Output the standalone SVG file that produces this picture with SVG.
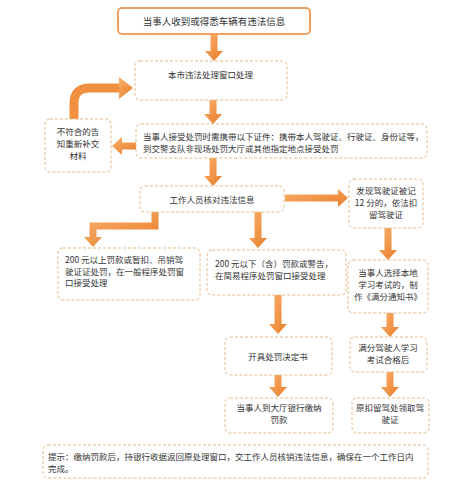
<svg xmlns="http://www.w3.org/2000/svg" width="466" height="485" viewBox="0 0 466 485">
<style>
text{font-family:"Noto Sans CJK SC","Noto Sans",sans-serif;font-size:8.5px;fill:#333}
.c{text-anchor:middle}
.b{fill:#fff;stroke:#e6b98a;stroke-width:1;stroke-dasharray:3 2}
.s{fill:#fff;stroke:#f0a060;stroke-width:2}
.a{fill:url(#g);stroke:none}
</style>
<defs>
<linearGradient id="g" x1="0" y1="0" x2="1" y2="1">
<stop offset="0" stop-color="#f7b06a"/>
<stop offset="1" stop-color="#ea7d2a"/>
</linearGradient>
</defs>
<rect width="466" height="485" fill="#fff"/>
<g id="connectors">
<path class="a" d="M210.5 34 H217.5 V51 H223 L214 61 L205 51 H210.5 Z"/>
<path class="a" d="M209.5 100 H216.5 V114 H222 L213 124 L204 114 H209.5 Z"/>
<path class="a" d="M209.5 158 H216.5 V176 H222 L213 186 L204 176 H209.5 Z"/>
<path class="a" d="M151.5 212 V222.5 H89.5 V237 H84 L93 247 L102 237 H96.5 V229.5 H158.5 V212 Z"/>
<path class="a" d="M254.5 212 H261.5 V238 H267 L258 248 L249 238 H254.5 Z"/>
<path class="a" d="M285 194.5 V201.5 H338 V207 L348 198 L338 189 V194.5 Z"/>
<path class="a" d="M384.5 228 H391.5 V250 H397 L388 260 L379 250 H384.5 Z"/>
<path class="a" d="M386.5 313 H393.5 V327 H399 L390 337 L381 327 H386.5 Z"/>
<path class="a" d="M386.5 372 H393.5 V387 H399 L390 397 L381 387 H386.5 Z"/>
<path class="a" d="M274.5 295 H281.5 V324 H287 L278 334 L269 324 H274.5 Z"/>
<path class="a" d="M274.5 375 H281.5 V387 H287 L278 397 L269 387 H274.5 Z"/>
<path class="a" d="M137 142.5 V149.5 H122 V155 L112 146 L122 137 V142.5 Z"/>
<path d="M74 119 V103 Q74 88 90 88 H120" fill="none" stroke="#f09040" stroke-width="9"/>
<path class="a" d="M119 77 L133 88 L119 99 Z"/>
</g>
<g id="n1"><rect class="s" x="118" y="8" width="192" height="26" rx="4"/><text class="c" x="214" y="25" style="font-size:9.5px">当事人收到或得悉车辆有违法信息</text></g>
<g id="n2"><rect class="b" x="135" y="61" width="152" height="39" rx="5"/><text class="c" x="210.5" y="78">本市违法处理窗口处理</text></g>
<g id="n3"><rect class="b" x="45" y="119" width="66" height="53" rx="5"/><text class="c" x="78" y="135">不符合的告</text><text class="c" x="78" y="147">知重新补交</text><text class="c" x="78" y="159">材料</text></g>
<g id="n4"><rect class="b" x="136" y="124" width="291" height="34" rx="5"/><text x="143" y="140">当事人接受处罚时需携带以下证件：携带本人驾驶证、行驶证、身份证等，</text><text x="143" y="152">到交警支队非现场处罚大厅或其他指定地点接受处罚</text></g>
<g id="n5"><rect class="b" x="140" y="186" width="144" height="26" rx="5"/><text class="c" x="212" y="203">工作人员核对违法信息</text></g>
<g id="n6"><rect class="b" x="349" y="179" width="74" height="49" rx="5"/><text class="c" x="386" y="194">发现驾驶证被记</text><text class="c" x="386" y="206">12 分的，依法扣</text><text class="c" x="386" y="218">留驾驶证</text></g>
<g id="n7"><rect class="b" x="58" y="248" width="142" height="52" rx="5"/><text x="65" y="263">200 元以上罚款或暂扣、吊销驾</text><text x="65" y="274.5">驶证证处罚，在一般程序处罚窗</text><text x="65" y="286">口接受处理</text></g>
<g id="n8"><rect class="b" x="207" y="250" width="139" height="45" rx="5"/><text x="215" y="267">200 元以下（含）罚款或警告，</text><text x="215" y="279">在简易程序处罚窗口接受处理</text></g>
<g id="n9"><rect class="b" x="348" y="260" width="80" height="53" rx="5"/><text class="c" x="388" y="276">当事人选择本地</text><text class="c" x="388" y="288">学习考试的，制</text><text class="c" x="388" y="300">作《满分通知书》</text></g>
<g id="n10"><rect class="b" x="225" y="337" width="107" height="38" rx="5"/><text class="c" x="278" y="360">开具处罚决定书</text></g>
<g id="n11"><rect class="b" x="350" y="337" width="77" height="35" rx="5"/><text class="c" x="388" y="351">满分驾驶人学习</text><text class="c" x="388" y="363">考试合格后</text></g>
<g id="n12"><rect class="b" x="225" y="398" width="108" height="35" rx="5"/><text class="c" x="279" y="411">当事人到大厅银行缴纳</text><text class="c" x="279" y="423">罚款</text></g>
<g id="n13"><rect class="b" x="352" y="398" width="77" height="35" rx="5"/><text class="c" x="390" y="411">原扣留驾处领取驾</text><text class="c" x="390" y="423">驶证</text></g>
<g id="n14"><rect class="b" x="43" y="445" width="385" height="33" rx="5"/><text x="48" y="460">提示：缴纳罚款后，持银行收据返回原处理窗口，交工作人员核销违法信息，确保在一个工作日内</text><text x="48" y="472">完成。</text></g>
</svg>
